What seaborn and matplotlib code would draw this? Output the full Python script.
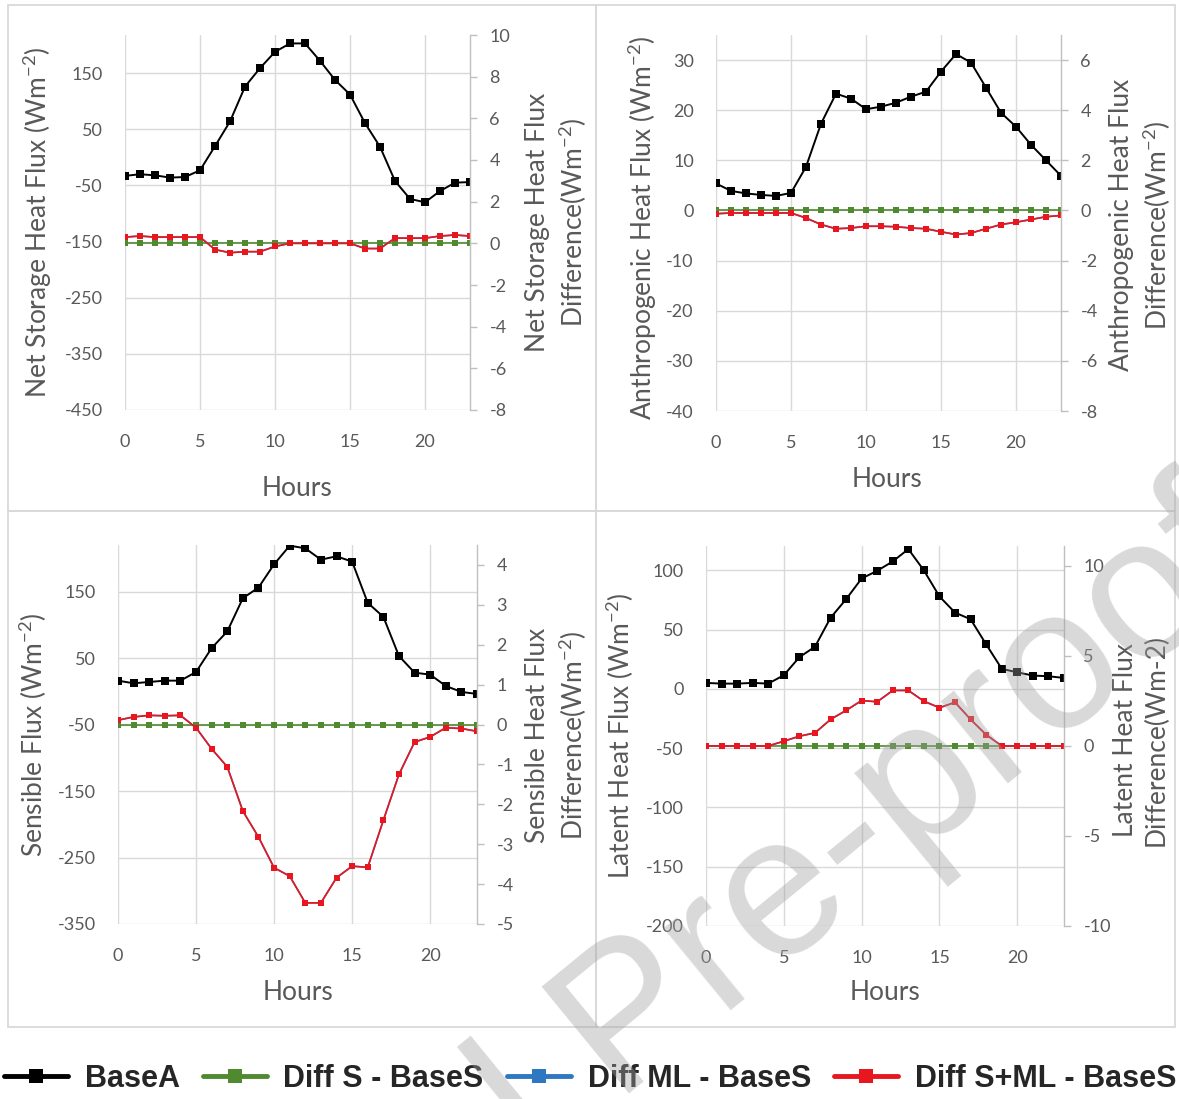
import numpy as np
import pandas as pd
import matplotlib
matplotlib.use("Agg")
import matplotlib.pyplot as plt
import seaborn as sns
from matplotlib.lines import Line2D
from matplotlib.patches import Rectangle

# ---------------- data ----------------
hours = list(range(24))

storage_base = [-33, -30, -32, -36, -35, -23, 20, 64, 126, 159, 188, 203,
                203, 172, 138, 112, 61, 19, -42, -74, -80, -60, -45, -44]
storage_diff_s = [0.0] * 24
storage_diff_sml = [0.3, 0.35, 0.3, 0.3, 0.3, 0.3, -0.3, -0.45, -0.4, -0.4, -0.15, 0.0,
                    0.0, 0.0, 0.0, 0.0, -0.25, -0.25, 0.25, 0.25, 0.25, 0.35, 0.4, 0.35]
storage_diff_ml = list(storage_diff_sml)

anthro_base = [5.4, 3.9, 3.4, 3.1, 2.9, 3.5, 8.7, 17.3, 23.3, 22.3, 20.2, 20.7,
               21.5, 22.7, 23.7, 27.7, 31.2, 29.5, 24.5, 19.5, 16.7, 13.1, 10.0, 6.9]
anthro_diff_s = [0.0] * 24
anthro_diff_sml = [-0.13, -0.1, -0.1, -0.1, -0.1, -0.1, -0.3, -0.56, -0.73, -0.7, -0.63, -0.63,
                   -0.65, -0.7, -0.73, -0.85, -0.96, -0.9, -0.73, -0.56, -0.47, -0.36, -0.25, -0.2]
anthro_diff_ml = list(anthro_diff_sml)

sensible_base = [16, 12, 14, 16, 16, 29, 65, 90, 140, 156, 191, 219,
                 215, 198, 203, 195, 133, 112, 53, 28, 25, 8, -1, -4]
sensible_diff_s = [0.0] * 24
sensible_diff_sml = [0.11, 0.19, 0.23, 0.22, 0.23, -0.08, -0.61, -1.06, -2.17, -2.82, -3.59, -3.8,
                     -4.47, -4.47, -3.84, -3.55, -3.58, -2.4, -1.25, -0.44, -0.31, -0.08, -0.1, -0.17]
sensible_diff_ml = list(sensible_diff_sml)

latent_base = [5.1, 4.5, 4.5, 5.1, 4.5, 11.6, 26.8, 35.6, 60, 75.7, 93.2, 99.7,
               107.6, 118, 100, 78, 64.4, 58.8, 37.6, 17, 14, 11.3, 10.7, 9.3]
latent_diff_s = [0.0] * 24
latent_diff_sml = [0, 0, 0, 0, 0, 0.26, 0.54, 0.72, 1.47, 1.97, 2.52, 2.45,
                   3.08, 3.08, 2.48, 2.12, 2.42, 1.47, 0.62, 0, 0, 0, 0, 0]
latent_diff_ml = list(latent_diff_sml)

series_names = ["BaseA", "Diff S - BaseS", "Diff ML - BaseS", "Diff S+ML - BaseS"]
x_ticks = [0, 5, 10, 15, 20]

# ---------------- style ----------------
sns.set_style("white")
plt.rcParams["font.family"] = ["Lato", "DejaVu Sans"]
plt.rcParams["mathtext.default"] = "regular"
plt.rcParams["axes.unicode_minus"] = False

BLACK = "#000000"
GREEN = "#4f8a31"
BLUE = "#2e78c2"
RED = "#e8161e"
GRID = "#d9d9d9"
TICKC = "#595959"
LABELC = "#595959"

W, H = 1179, 1099
fig = plt.figure(figsize=(W / 100, H / 100), dpi=100)


def fx(px):
    return px / W


def fy(py):
    return 1 - py / H


# panel frames
for (x0, y0, x1, y1) in [(8, 5, 596, 511), (596, 5, 1175, 511),
                         (8, 511, 596, 1027), (596, 511, 1175, 1027)]:
    fig.patches.append(Rectangle((fx(x0), fy(y1)), fx(x1) - fx(x0), fy(y0) - fy(y1),
                                 transform=fig.transFigure, fill=False,
                                 edgecolor="#d9d9d9", linewidth=1.3, zorder=0))


def panel(px_left, px_right, px_top, px_bottom, base, d_s, d_ml, d_sml,
          ylim_l, yticks_l, ylim_r, yticks_r, ylabel_l, ylabel_r,
          lab_l_xy, lab_r_xy, hours_xy):
    ax = fig.add_axes([fx(px_left), fy(px_bottom), fx(px_right) - fx(px_left),
                       fy(px_top) - fy(px_bottom)])
    ax2 = ax.twinx()
    df = pd.DataFrame({"Hour": hours, "BaseA": base, "DiffS": d_s,
                       "DiffML": d_ml, "DiffSML": d_sml})
    sns.lineplot(data=df, x="Hour", y="BaseA", ax=ax, color=BLACK, marker="s",
                 markersize=5.5, markeredgewidth=0, linewidth=1.4, legend=False)
    sns.lineplot(data=df, x="Hour", y="DiffS", ax=ax2, color=GREEN, marker="s",
                 markersize=5, markeredgewidth=0, linewidth=1.2, legend=False)
    sns.lineplot(data=df, x="Hour", y="DiffML", ax=ax2, color=BLUE, marker="s",
                 markersize=5, markeredgewidth=0, linewidth=1.2, legend=False)
    sns.lineplot(data=df, x="Hour", y="DiffSML", ax=ax2, color=RED, marker="s",
                 markersize=5, markeredgewidth=0, linewidth=1.2, legend=False)

    ax.set_xlim(0, 23)
    ax.set_xticks(x_ticks)
    ax.set_ylim(*ylim_l)
    ax.set_yticks(yticks_l)
    ax2.set_ylim(*ylim_r)
    ax2.set_yticks(yticks_r)
    ax.grid(True, color=GRID, linewidth=1.0)
    ax.set_axisbelow(True)
    for s in ax.spines.values():
        s.set_visible(False)
    for name, s in ax2.spines.items():
        s.set_visible(name == "right")
    ax2.spines["right"].set_color("#bfbfbf")
    ax2.spines["right"].set_linewidth(1.0)

    ax.tick_params(axis="both", length=0, labelsize=13, labelcolor=TICKC)
    ax.tick_params(axis="y", pad=16)
    ax.tick_params(axis="x", pad=17)
    ax2.tick_params(axis="y", length=5, width=1.0, color="#bfbfbf", direction="out",
                    labelsize=13, labelcolor=TICKC, pad=9)

    ax.set_xlabel("Hours", fontsize=19, color=LABELC)
    ax.set_ylabel(ylabel_l, fontsize=19, color=LABELC)
    ax2.set_ylabel(ylabel_r, fontsize=19, color=LABELC, linespacing=1.25)

    for axis, lab, (x, y) in [(ax.xaxis, ax.xaxis.label, hours_xy),
                              (ax.yaxis, ax.yaxis.label, lab_l_xy),
                              (ax2.yaxis, ax2.yaxis.label, lab_r_xy)]:
        axis.set_label_coords(fx(x), fy(y), transform=fig.transFigure)
        lab.set_ha("center")
        lab.set_va("center")
        lab.set_rotation_mode("anchor")
    return ax, ax2


panel(125, 470, 35, 410, storage_base, storage_diff_s, storage_diff_ml, storage_diff_sml,
      (-450, 218), [-450, -350, -250, -150, -50, 50, 150],
      (-8, 10), [-8, -6, -4, -2, 0, 2, 4, 6, 8, 10],
      "Net Storage Heat Flux (Wm$^{-2}$)", "Net Storage Heat Flux\nDifference(Wm$^{-2}$)",
      (38, 222), (557, 222), (297, 488))

panel(716, 1061, 35, 411, anthro_base, anthro_diff_s, anthro_diff_ml, anthro_diff_sml,
      (-40, 35), [-40, -30, -20, -10, 0, 10, 20, 30],
      (-8, 7), [-8, -6, -4, -2, 0, 2, 4, 6],
      "Anthropogenic Heat Flux (Wm$^{-2}$)", "Anthropogenic Heat Flux\nDifference(Wm$^{-2}$)",
      (643, 228), (1141, 225), (887, 480))

panel(118, 477, 545, 924, sensible_base, sensible_diff_s, sensible_diff_ml, sensible_diff_sml,
      (-350, 220), [-350, -250, -150, -50, 50, 150],
      (-5, 4.5), [-5, -4, -3, -2, -1, 0, 1, 2, 3, 4],
      "Sensible Flux (Wm$^{-2}$)", "Sensible Heat Flux\nDifference(Wm$^{-2}$)",
      (33, 735), (557, 735), (298, 993))

panel(706, 1064, 546, 926, latent_base, latent_diff_s, latent_diff_ml, latent_diff_sml,
      (-200, 120.6), [-200, -150, -100, -50, 0, 50, 100],
      (-10, 11.1), [-10, -5, 0, 5, 10],
      "Latent Heat Flux (Wm$^{-2}$)", "Latent Heat Flux\nDifference(Wm-2)",
      (620, 736), (1141, 740), (885, 993))

# ---------------- legend ----------------
leg_font = {"family": "Liberation Sans", "weight": "bold", "size": 22}
handles = [Line2D([], [], color=c, lw=3.5, marker="s", markersize=10, markeredgewidth=0)
           for c in [BLACK, GREEN, BLUE, RED]]
fig.legend(handles, series_names, loc="center", bbox_to_anchor=(fx(590), fy(1079)),
           ncol=4, frameon=False, prop=leg_font, handlelength=2.1, handletextpad=0.55,
           columnspacing=0.75, borderpad=0, borderaxespad=0)

# ---------------- watermark ----------------
fig.text(fx(62), fy(1557), "Journal Pre-proof", fontsize=145, family="Liberation Sans",
         color="#a0a0a0", alpha=0.4, rotation=39.3, rotation_mode="anchor",
         ha="left", va="baseline", zorder=20)

fig.savefig("out.png", dpi=100)
